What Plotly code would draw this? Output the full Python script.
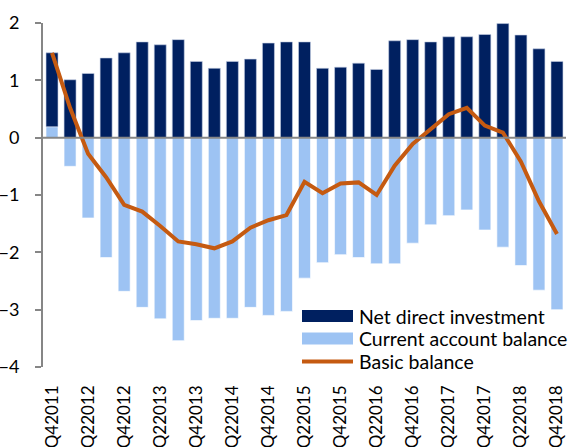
import plotly.graph_objects as go

quarters = ["Q42011",
            "Q12012", "Q22012", "Q32012", "Q42012",
            "Q12013", "Q22013", "Q32013", "Q42013",
            "Q12014", "Q22014", "Q32014", "Q42014",
            "Q12015", "Q22015", "Q32015", "Q42015",
            "Q12016", "Q22016", "Q32016", "Q42016",
            "Q12017", "Q22017", "Q32017", "Q42017",
            "Q12018", "Q22018", "Q32018", "Q42018"]

net_direct_investment = [1.29, 1.01, 1.12, 1.39, 1.48, 1.67, 1.62, 1.71, 1.33, 1.21,
                         1.33, 1.37, 1.65, 1.67, 1.67, 1.21, 1.23, 1.30, 1.19, 1.69,
                         1.71, 1.67, 1.76, 1.76, 1.80, 1.99, 1.79, 1.55, 1.33]

current_account_balance = [0.19, -0.50, -1.40, -2.09, -2.68, -2.96, -3.16, -3.54, -3.19, -3.15,
                           -3.15, -2.96, -3.10, -3.03, -2.45, -2.18, -2.04, -2.09, -2.20, -2.20,
                           -1.84, -1.52, -1.36, -1.26, -1.61, -1.91, -2.23, -2.66, -3.00]

basic_balance = [1.48, 0.52, -0.28, -0.69, -1.17, -1.29, -1.54, -1.81, -1.86, -1.93,
                 -1.81, -1.57, -1.44, -1.35, -0.77, -0.97, -0.80, -0.78, -1.00, -0.49,
                 -0.11, 0.15, 0.41, 0.52, 0.21, 0.09, -0.42, -1.11, -1.68]

tick_labels = quarters[::2]
y_ticks = [2, 1, 0, -1, -2, -3, -4]

DARK = "#002060"
LIGHT = "#9DC3F3"
ORANGE = "#C55A11"
AXIS = "#868686"
FONT = "Lato"

W, H = 568, 447
ML, MR, MT, MB = 43, 2, 23, 80

fig = go.Figure()
fig.add_trace(go.Bar(x=quarters, y=current_account_balance, name="Current account balance",
                     marker=dict(color=LIGHT, line=dict(color="white", width=0.6)),
                     showlegend=False))
fig.add_trace(go.Bar(x=quarters, y=net_direct_investment, name="Net direct investment",
                     marker=dict(color=DARK, line=dict(color="#c8d2e6", width=0.6)),
                     showlegend=False))
fig.add_trace(go.Scatter(x=quarters, y=basic_balance, name="Basic balance", mode="lines",
                         line=dict(color=ORANGE, width=4), showlegend=False))

# zero line above bars
fig.add_shape(type="line", xref="paper", yref="y", x0=0, x1=1, y0=0, y1=0,
              line=dict(color=AXIS, width=2), layer="above")

# manual legend (pixel -> paper)
pw, ph = W - ML - MR, H - MT - MB
def px(x):
    return (x - ML) / pw
def py(y):
    return (H - MB - y) / ph

legend_items = [("Net direct investment", "rect", DARK, 316),
                ("Current account balance", "rect", LIGHT, 338.5),
                ("Basic balance", "line", ORANGE, 361.5)]
for label, kind, color, yc in legend_items:
    if kind == "rect":
        fig.add_shape(type="rect", xref="paper", yref="paper",
                      x0=px(302), x1=px(353), y0=py(yc + 6), y1=py(yc - 6),
                      fillcolor=color, line=dict(width=0), layer="above")
    else:
        fig.add_shape(type="line", xref="paper", yref="paper",
                      x0=px(302), x1=px(353), y0=py(yc), y1=py(yc),
                      line=dict(color=color, width=4), layer="above")
    fig.add_annotation(xref="paper", yref="paper", x=px(357), y=py(yc), text=label,
                       showarrow=False, xanchor="left", yanchor="middle",
                       font=dict(family=FONT, size=19.5, color="#000000"))

fig.update_layout(
    width=W, height=H,
    margin=dict(l=ML, r=MR, t=MT, b=MB, autoexpand=False),
    barmode="relative", bargap=0.335,
    plot_bgcolor="white", paper_bgcolor="white",
    font=dict(family=FONT, color="#000000"),
    showlegend=False,
    xaxis=dict(type="category", categoryorder="array", categoryarray=quarters,
               range=[-0.5, len(quarters) - 0.5],
               tickmode="array", tickvals=tick_labels, ticktext=tick_labels,
               tickangle=-90, ticks="", showline=False, showgrid=False, zeroline=False,
               tickfont=dict(family=FONT, size=17), ticklabelstandoff=14),
    yaxis=dict(range=[-4, 2], tickmode="array", tickvals=y_ticks,
               showline=True, linecolor=AXIS, linewidth=2,
               ticks="outside", ticklen=6, tickcolor=AXIS, tickwidth=2,
               showgrid=False, zeroline=False,
               tickfont=dict(family=FONT, size=18), ticklabelstandoff=12),
)

fig.write_html("out.html", config={"displayModeBar": False},
               post_script="document.body.style.margin='0';document.body.style.overflow='hidden';")
